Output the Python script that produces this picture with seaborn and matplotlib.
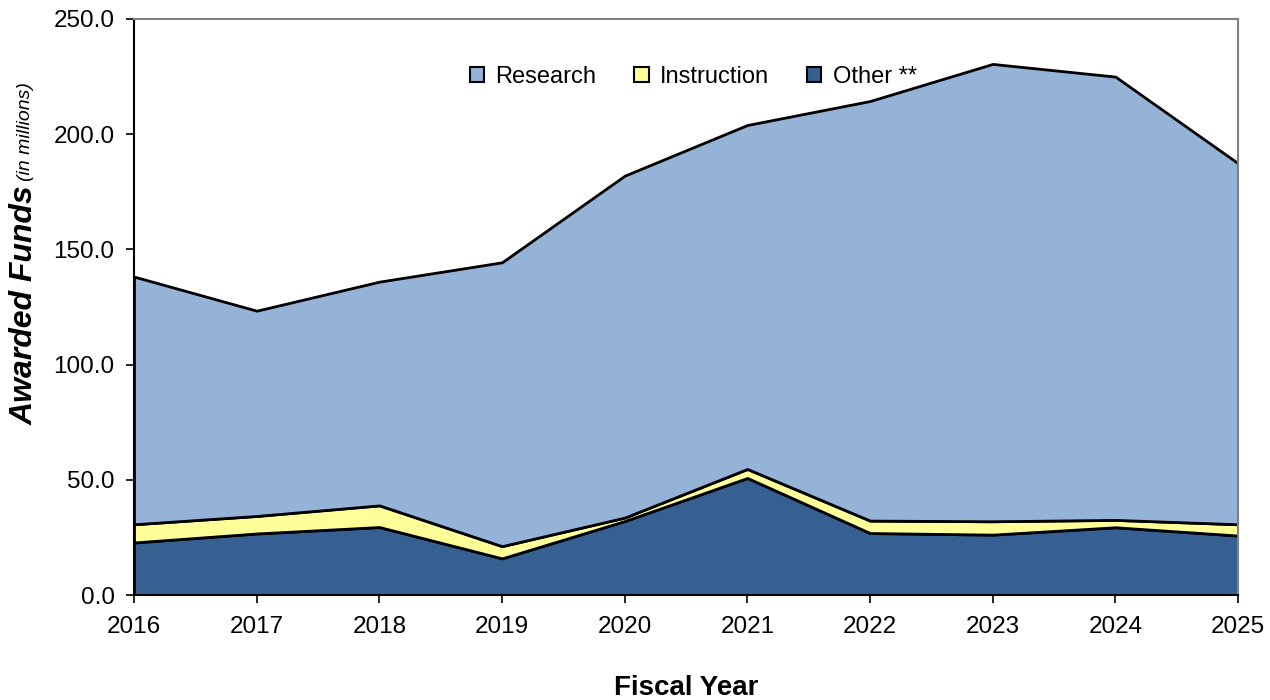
import numpy as np
import matplotlib
matplotlib.use("Agg")
import matplotlib.pyplot as plt
import seaborn as sns
from matplotlib.patches import Patch

sns.set_style("white")
plt.rcParams['font.family'] = ['Liberation Sans', 'DejaVu Sans']
plt.rcParams['text.color'] = 'black'
plt.rcParams['xtick.color'] = 'black'
plt.rcParams['ytick.color'] = 'black'

# values (in millions)
years = [2016, 2017, 2018, 2019, 2020, 2021, 2022, 2023, 2024, 2025]
other = [22.8, 26.7, 29.5, 15.9, 32.1, 50.8, 26.9, 26.2, 29.4, 25.8]
instruction = [7.9, 7.6, 9.4, 5.3, 1.5, 3.9, 5.4, 5.8, 3.2, 4.9]
research = [107.5, 89.1, 97.1, 123.2, 148.4, 149.3, 182.1, 198.5, 192.4, 156.7]

series_names = ["Research", "Instruction", "Other **"]
colors = {"Research": "#95B3D7", "Instruction": "#FFFF99", "Other **": "#366092"}

fig = plt.figure(figsize=(12.7, 7), dpi=100)
ax = fig.add_axes([134/1270, 1-595/700, (1238-134)/1270, (595-19)/700])

ax.stackplot(years, other, instruction, research,
             colors=[colors["Other **"], colors["Instruction"], colors["Research"]],
             edgecolor="black", linewidth=2)

ax.set_xlim(2016, 2025)
ax.set_ylim(0, 250)
ax.set_xticks(years)
ax.set_yticks(np.arange(0, 251, 50))
ax.set_yticklabels([f"{v:.1f}" for v in np.arange(0, 251, 50)])
ax.tick_params(axis="both", direction="out", length=6, width=1.2, color="black",
               labelcolor="black", labelsize=17.5, left=True, bottom=True)
ax.tick_params(axis="x", pad=9)
ax.tick_params(axis="y", pad=8)

for side in ["left", "bottom"]:
    ax.spines[side].set_color("black")
    ax.spines[side].set_linewidth(1.5)
for side in ["top", "right"]:
    ax.spines[side].set_color("#808080")
    ax.spines[side].set_linewidth(1.5)

handles = [Patch(facecolor=colors[n], edgecolor="black", linewidth=1.5) for n in series_names]
fig.legend(handles, series_names, loc="center", bbox_to_anchor=(0.546, 1-77/700),
           ncol=3, frameon=False, fontsize=17, handlelength=0.6, handleheight=0.6,
           handletextpad=0.5, columnspacing=1.6)

fig.text(686/1270, 1-688/700, "Fiscal Year", ha="center", va="center",
         fontsize=20, fontweight="bold", color="black")

t1 = fig.text(25/1270, 1-425/700, "Awarded Funds", rotation=90, ha="center", va="bottom",
              fontsize=23, fontweight="bold", fontstyle="italic", color="black")
fig.canvas.draw()
bb = t1.get_window_extent(fig.canvas.get_renderer()).transformed(fig.transFigure.inverted())
fig.text(25/1270, bb.y1 + 0.006, "(in millions)", rotation=90, ha="center", va="bottom",
         fontsize=14, fontstyle="italic", color="black")

plt.savefig("out.png", dpi=100)
